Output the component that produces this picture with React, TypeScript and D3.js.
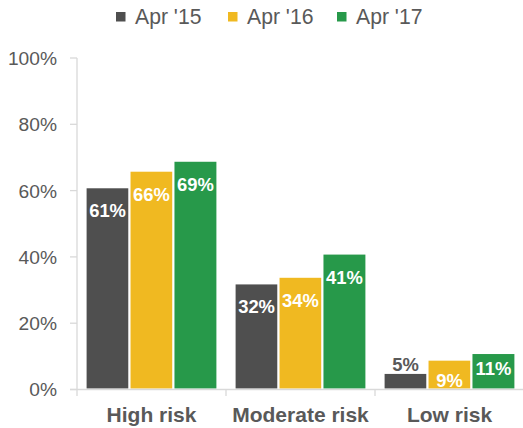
import React from "react";
import * as d3 from "d3";

const categories = ["High risk", "Moderate risk", "Low risk"];
const seriesNames = ["Apr '15", "Apr '16", "Apr '17"];
const apr15 = [61, 32, 5];
const apr16 = [66, 34, 9];
const apr17 = [69, 41, 11];
const yTicks = [0, 20, 40, 60, 80, 100];

const seriesValues = [apr15, apr16, apr17];
const colors = ["#4f4f4f", "#f0b921", "#27994a"];
const textGray = "#595959";
const axisGray = "#d9d9d9";
const FONT = "'Liberation Sans', Arial, Helvetica, sans-serif";

const W = 523;
const H = 428;
const plotLeft = 77;
const plotRight = 524;
const y0 = 389.5;
const y100 = 58;

// label placement tweaks (layout, not data)
function labelBaseline(si: number, ci: number, top: number): number {
  if (ci === 2) {
    if (si === 0) return top - 2;
    if (si === 1) return top + 27.5;
    return top + 22;
  }
  return top + 30;
}

export default function App() {
  const x = d3.scaleBand<string>().domain(categories).range([plotLeft, plotRight]).padding(0);
  const bw = x.bandwidth();
  const xs = d3
    .scaleBand<string>()
    .domain(seriesNames)
    .range([8.6, bw - 8.6])
    .padding(0);
  const y = d3.scaleLinear().domain([0, 100]).range([y0, y100]);

  const legendX = [116, 228, 337];

  return (
    <svg
      width={W}
      height={H}
      style={{ position: "absolute", left: 0, top: 0, background: "#fff" }}
      fontFamily={FONT}
    >
      {/* legend */}
      {seriesNames.map((s, i) => (
        <g key={s}>
          <rect x={legendX[i]} y={12} width={9.5} height={9.5} fill={colors[i]} />
          <text x={legendX[i] + 19} y={24} fontSize={21.2} fill={textGray}>
            {s}
          </text>
        </g>
      ))}

      {/* y axis */}
      <line x1={plotLeft} x2={plotLeft} y1={y(100)} y2={y0} stroke={axisGray} strokeWidth={1.3} />
      {yTicks.map((t) => (
        <g key={t}>
          <line x1={plotLeft - 7} x2={plotLeft} y1={y(t)} y2={y(t)} stroke={axisGray} strokeWidth={1.3} />
          <text
            x={57}
            y={y(t)}
            dy="0.36em"
            textAnchor="end"
            fontSize={19.2}
            fill={textGray}
          >
            {t + "%"}
          </text>
        </g>
      ))}

      {/* bars */}
      {categories.map((c, ci) => (
        <g key={c} transform={`translate(${x(c)},0)`}>
          {seriesNames.map((s, si) => {
            const v = seriesValues[si][ci];
            const top = y(v);
            return (
              <rect
                key={s}
                x={xs(s)}
                y={top}
                width={xs.bandwidth()}
                height={y0 - top}
                fill={colors[si]}
                stroke="#fff"
                strokeWidth={2}
              />
            );
          })}
        </g>
      ))}

      {/* x axis */}
      <line x1={plotLeft - 7} x2={W} y1={y0} y2={y0} stroke={axisGray} strokeWidth={1.3} />
      {categories.map((c) => (
        <line
          key={c}
          x1={x(c)!}
          x2={x(c)!}
          y1={y0}
          y2={y0 + 6.5}
          stroke={axisGray}
          strokeWidth={1.3}
        />
      ))}
      {categories.map((c) => (
        <text
          key={c}
          x={x(c)! + bw / 2}
          y={422}
          textAnchor="middle"
          fontSize={21}
          fontWeight="bold"
          fill={textGray}
        >
          {c}
        </text>
      ))}

      {/* data labels */}
      {categories.map((c, ci) =>
        seriesNames.map((s, si) => {
          const v = seriesValues[si][ci];
          const top = y(v);
          const outside = ci === 2 && si === 0;
          return (
            <text
              key={c + s}
              x={x(c)! + xs(s)! + xs.bandwidth() / 2}
              y={labelBaseline(si, ci, top)}
              textAnchor="middle"
              fontSize={18.4}
              fontWeight="bold"
              fill={outside ? textGray : "#fff"}
            >
              {v + "%"}
            </text>
          );
        })
      )}
    </svg>
  );
}
